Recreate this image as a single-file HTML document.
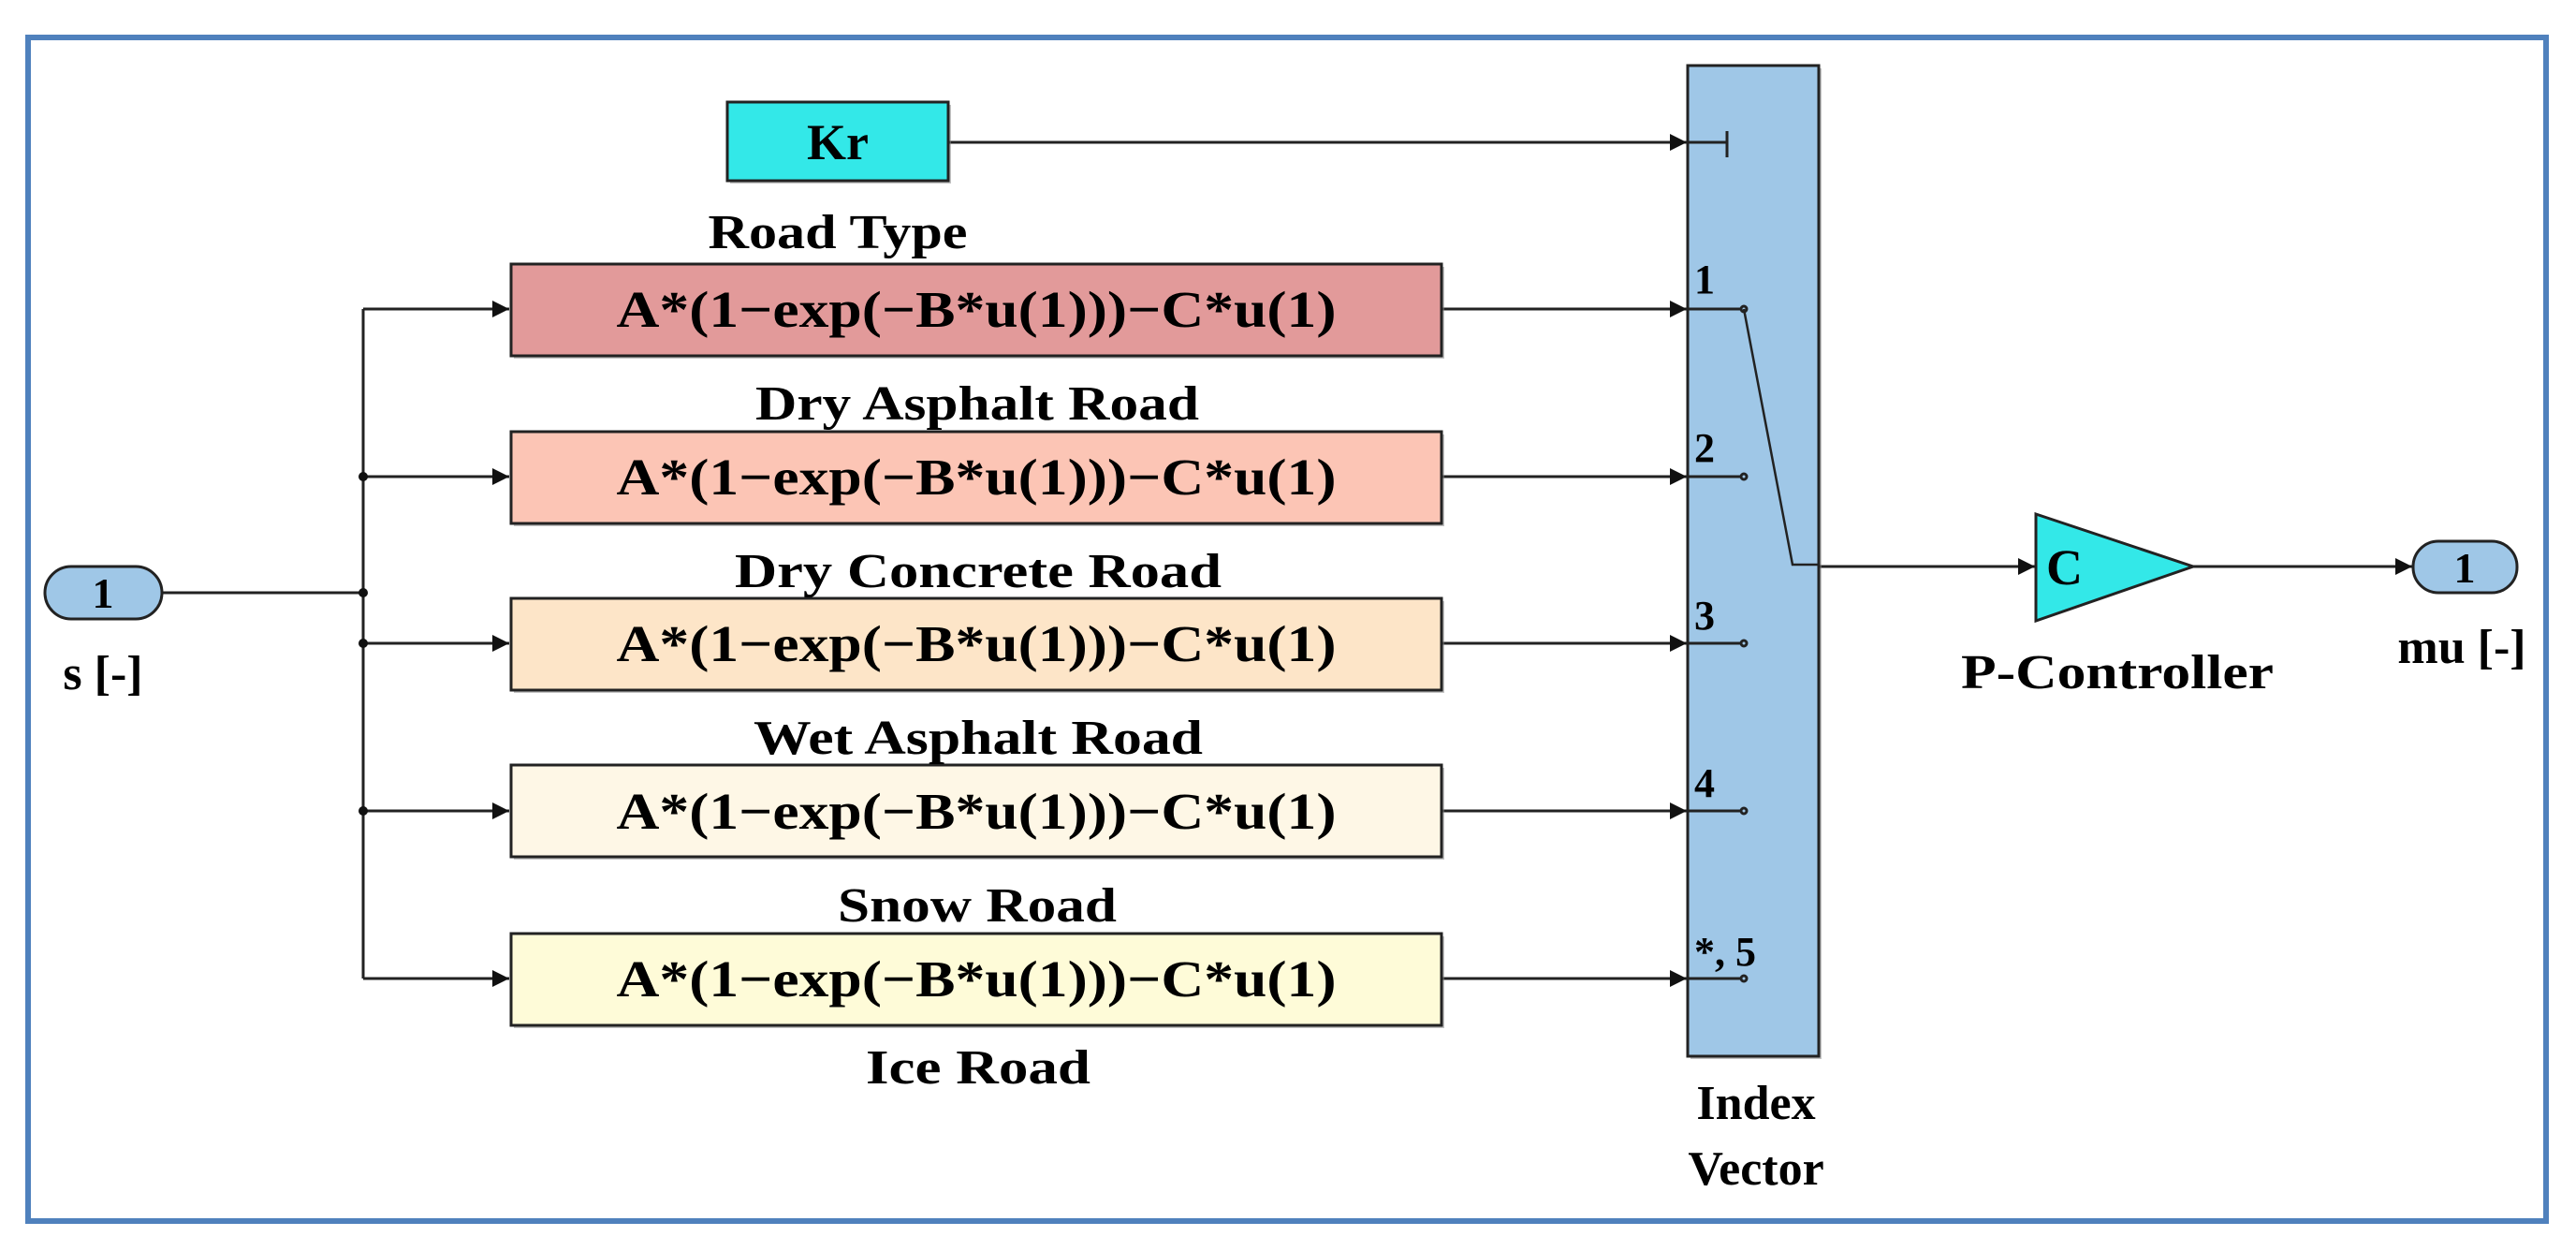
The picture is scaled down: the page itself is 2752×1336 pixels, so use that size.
<!DOCTYPE html>
<html><head><meta charset="utf-8"><style>html,body{margin:0;padding:0;background:#fff}svg{display:block}</style></head><body>
<svg width="2752" height="1336" viewBox="0 0 2752 1336" xmlns="http://www.w3.org/2000/svg" font-family="'Liberation Serif', serif" font-weight="bold">
<defs><marker id="a" markerWidth="10" markerHeight="10" refX="9" refY="5" orient="auto" markerUnits="userSpaceOnUse" viewBox="0 0 10 10"><path d="M0,0 L10,5 L0,10z" fill="#111"/></marker>
<marker id="ar" viewBox="0 0 10 10" refX="10" refY="5" markerWidth="18" markerHeight="18" orient="auto" markerUnits="userSpaceOnUse"><path d="M0,0 L10,5 L0,10z" fill="#111"/></marker></defs>
<rect x="0" y="0" width="2752" height="1336" fill="#fff"/>
<rect x="30" y="40" width="2690" height="1264" fill="none" stroke="#4f81bd" stroke-width="6"/>
<g stroke="#222" stroke-width="3" fill="none">
<!-- Kr line -->
<line x1="1013" y1="152" x2="1802" y2="152" marker-end="url(#ar)"/>
<!-- input -->
<line x1="173" y1="633" x2="388" y2="633"/>
<line x1="388" y1="330" x2="388" y2="1045"/>
<line x1="388" y1="330" x2="544" y2="330" marker-end="url(#ar)"/>
<line x1="388" y1="509" x2="544" y2="509" marker-end="url(#ar)"/>
<line x1="388" y1="687" x2="544" y2="687" marker-end="url(#ar)"/>
<line x1="388" y1="866" x2="544" y2="866" marker-end="url(#ar)"/>
<line x1="388" y1="1045" x2="544" y2="1045" marker-end="url(#ar)"/>
<line x1="1540" y1="330" x2="1802" y2="330" marker-end="url(#ar)"/>
<line x1="1540" y1="509" x2="1802" y2="509" marker-end="url(#ar)"/>
<line x1="1540" y1="687" x2="1802" y2="687" marker-end="url(#ar)"/>
<line x1="1540" y1="866" x2="1802" y2="866" marker-end="url(#ar)"/>
<line x1="1540" y1="1045" x2="1802" y2="1045" marker-end="url(#ar)"/>
<line x1="1942" y1="605" x2="2174" y2="605" marker-end="url(#ar)"/>
<line x1="2343" y1="605" x2="2577" y2="605" marker-end="url(#ar)"/>
</g>
<g fill="#111"><circle cx="388" cy="509" r="5"/><circle cx="388" cy="633" r="5"/><circle cx="388" cy="687" r="5"/><circle cx="388" cy="866" r="5"/></g>
<!-- Kr -->
<rect x="780" y="112" width="236" height="84" fill="#888" opacity="0.5"/>
<rect x="777" y="109" width="236" height="84" fill="#33e8e8" stroke="#222" stroke-width="3"/>
<text x="895" y="170" font-size="54" text-anchor="middle">Kr</text>
<!-- boxes -->
<g stroke="#222" stroke-width="3">
<rect x="549" y="285" width="994" height="98" fill="#888" stroke="none" opacity="0.5"/>
<rect x="546" y="282" width="994" height="98" fill="#e29a9a"/>
<rect x="549" y="464" width="994" height="98" fill="#888" stroke="none" opacity="0.5"/>
<rect x="546" y="461" width="994" height="98" fill="#fcc5b5"/>
<rect x="549" y="642" width="994" height="98" fill="#888" stroke="none" opacity="0.5"/>
<rect x="546" y="639" width="994" height="98" fill="#fde5c8"/>
<rect x="549" y="820" width="994" height="98" fill="#888" stroke="none" opacity="0.5"/>
<rect x="546" y="817" width="994" height="98" fill="#fef7e6"/>
<rect x="549" y="1000" width="994" height="98" fill="#888" stroke="none" opacity="0.5"/>
<rect x="546" y="997" width="994" height="98" fill="#fefbd8"/>
</g>
<g font-size="55" text-anchor="middle">
<text x="1043" y="349" textLength="769" lengthAdjust="spacingAndGlyphs">A*(1−exp(−B*u(1)))−C*u(1)</text>
<text x="1043" y="528" textLength="769" lengthAdjust="spacingAndGlyphs">A*(1−exp(−B*u(1)))−C*u(1)</text>
<text x="1043" y="706" textLength="769" lengthAdjust="spacingAndGlyphs">A*(1−exp(−B*u(1)))−C*u(1)</text>
<text x="1043" y="885" textLength="769" lengthAdjust="spacingAndGlyphs">A*(1−exp(−B*u(1)))−C*u(1)</text>
<text x="1043" y="1064" textLength="769" lengthAdjust="spacingAndGlyphs">A*(1−exp(−B*u(1)))−C*u(1)</text>
</g>
<g font-size="52" text-anchor="middle">
<text x="895" y="265" textLength="277" lengthAdjust="spacingAndGlyphs">Road Type</text>
<text x="1044" y="448" textLength="474" lengthAdjust="spacingAndGlyphs">Dry Asphalt Road</text>
<text x="1045" y="627" textLength="520" lengthAdjust="spacingAndGlyphs">Dry Concrete Road</text>
<text x="1045" y="805" textLength="480" lengthAdjust="spacingAndGlyphs">Wet Asphalt Road</text>
<text x="1044" y="984" textLength="298" lengthAdjust="spacingAndGlyphs">Snow Road</text>
<text x="1045" y="1157" textLength="240" lengthAdjust="spacingAndGlyphs">Ice Road</text>
<text x="1876" y="1195">Index</text>
<text x="1876" y="1265">Vector</text>
<text x="2262" y="735" textLength="334" lengthAdjust="spacingAndGlyphs">P-Controller</text>
<text x="2630" y="708">mu [-]</text>
<text x="110" y="736">s [-]</text>
</g>
<!-- index vector -->
<rect x="1806" y="73" width="140" height="1058" fill="#888" opacity="0.5"/>
<rect x="1803" y="70" width="140" height="1058" fill="#9fc7e7" stroke="#222" stroke-width="3"/>
<g stroke="#222" stroke-width="3" fill="none">
<line x1="1803" y1="152" x2="1845" y2="152"/><line x1="1845" y1="140" x2="1845" y2="168"/>
<line x1="1803" y1="330" x2="1860" y2="330"/><circle cx="1863" cy="330" r="3"/>
<line x1="1803" y1="509" x2="1860" y2="509"/><circle cx="1863" cy="509" r="3"/>
<line x1="1803" y1="687" x2="1860" y2="687"/><circle cx="1863" cy="687" r="3"/>
<line x1="1803" y1="866" x2="1860" y2="866"/><circle cx="1863" cy="866" r="3"/>
<line x1="1803" y1="1045" x2="1860" y2="1045"/><circle cx="1863" cy="1045" r="3"/>
<polyline points="1863,330 1915,603 1943,603" stroke-width="2.5"/>
</g>
<g font-size="44">
<text x="1810" y="313">1</text>
<text x="1810" y="493">2</text>
<text x="1810" y="672">3</text>
<text x="1810" y="851">4</text>
<text x="1810" y="1031">*, 5</text>
</g>
<!-- gain -->
<polygon points="2175,549 2343,605 2175,663" fill="#33e8e8" stroke="#222" stroke-width="3"/>
<text x="2186" y="624" font-size="54">C</text>
<!-- ports -->
<rect x="48" y="605" width="125" height="56" rx="28" fill="#9fc7e7" stroke="#222" stroke-width="3"/>
<text x="110" y="649" font-size="46" text-anchor="middle">1</text>
<rect x="2578" y="578" width="111" height="55" rx="27" fill="#9fc7e7" stroke="#222" stroke-width="3"/>
<text x="2633" y="622" font-size="46" text-anchor="middle">1</text>
</svg>
</body></html>
